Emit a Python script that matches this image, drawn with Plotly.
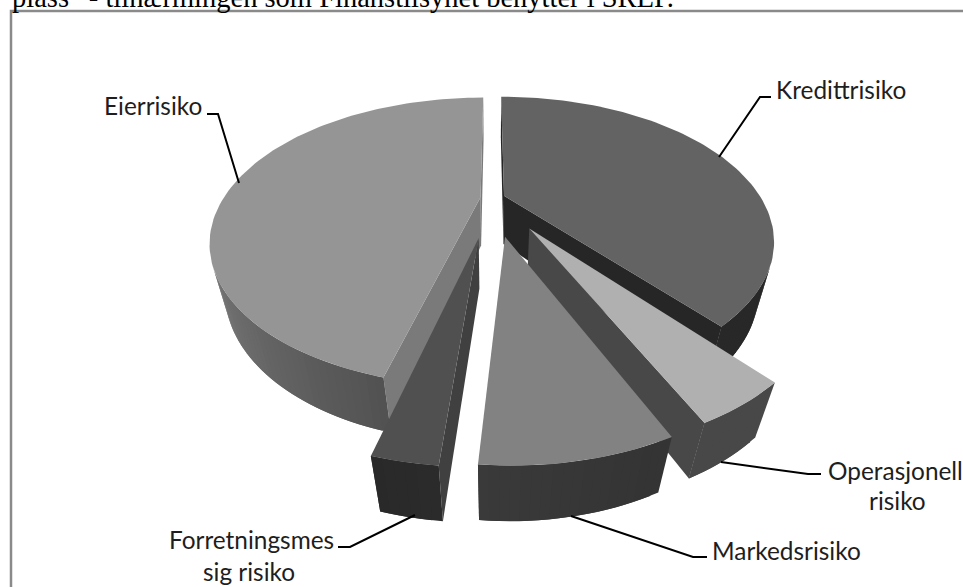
import math
import plotly.graph_objects as go

# Risk categories, clockwise from twelve o'clock
categories = ["Kredittrisiko", "Operasjonell risiko", "Markedsrisiko",
              "Forretningsmessig risiko", "Eierrisiko"]
shares = [39.0, 4.3, 8.0, 2.75, 45.95]
explode = [0.05, 0.256, 0.275, 0.283, 0.045]
radius = [1.0, 0.99, 0.98, 0.975, 1.0]

# Face colours per slice
top_colors = ["#636363", "#b0b0b0", "#828282", "#505050", "#959595"]
cut_colors = ["#262626", "#484848", "#333333", "#404040", "#7a7a7a"]
# Outer wall shading: (degrees into the pie, grey level)
wall_shades = [
    [(0, 40), (360, 40)],
    [(0, 72), (360, 72)],
    [(150, 50), (185, 58)],
    [(180, 44), (200, 40)],
    [(195, 82), (235, 112), (265, 140), (360, 140)],
]
draw_order = [0, 4, 1, 3, 2]

# Projection of the pie disk: perspective camera looking down on the chart
CX, CY = 492.0, 198.0
A, B, K = 257.0, 131.0, 0.31
DROP, SHRINK = 50.8, 0.052


def project(x, y, h=0.0):
    w = 1 + K * y + SHRINK * h
    return CX + A * x / w, CY + (-B * y + DROP * h) / w


def shade(stops, deg):
    g = stops[-1][1]
    if deg <= stops[0][0]:
        g = stops[0][1]
    else:
        for (a0, g0), (a1, g1) in zip(stops, stops[1:]):
            if a0 <= deg <= a1:
                g = g0 + (g1 - g0) * (deg - a0) / (a1 - a0)
                break
    g = int(round(g))
    return f"rgb({g},{g},{g})"


def polygon(points, color, name):
    return go.Scatter(
        x=[p[0] for p in points] + [points[0][0]],
        y=[p[1] for p in points] + [points[0][1]],
        mode="lines", fill="toself", fillcolor=color,
        line=dict(color=color, width=0), name=name,
        hoverinfo="text", text=name, showlegend=False,
    )


def wall(p, q):
    """Corner points of the vertical wall under edge p-q, or None if it faces away."""
    pts = [project(*p), project(*q), project(*q, 1), project(*p, 1)]
    area = sum(a[0] * b[1] - b[0] * a[1] for a, b in zip(pts, pts[1:] + pts[:1]))
    return pts if area < 0 else None


fig = go.Figure()

total = sum(shares)
edges = [0.0]
for s in shares:
    edges.append(edges[-1] + 360.0 * s / total)

for i in draw_order:
    a0, a1 = edges[i], edges[i + 1]
    mid = math.radians((a0 + a1) / 2)
    ox, oy = explode[i] * math.sin(mid), explode[i] * math.cos(mid)
    r = radius[i]

    def rim(deg):
        t = math.radians(deg)
        return ox + r * math.sin(t), oy + r * math.cos(t)

    steps = max(4, int((a1 - a0) / 1.5))
    degs = [a0 + (a1 - a0) * j / steps for j in range(steps + 1)]
    name = categories[i]

    # Cut faces at both ends of the slice
    for p, q in (((ox, oy), rim(a0)), (rim(a1), (ox, oy))):
        pts = wall(p, q)
        if pts:
            fig.add_trace(polygon(pts, cut_colors[i], name))

    # Outer wall: each strip overlaps the next so no seams show
    for j in range(steps):
        d0, d1 = degs[j], degs[min(j + 2, steps)]
        pts = wall(rim(d0), rim(d1))
        if pts:
            fig.add_trace(polygon(pts, shade(wall_shades[i], (degs[j] + degs[j + 1]) / 2), name))

    # Top face
    fig.add_trace(polygon(
        [project(ox, oy)] + [project(*rim(d)) for d in degs],
        top_colors[i], name))

# Leader lines from the slices to their labels
leaders = [
    [(719, 157), (760, 97), (771, 97)],
    [(721, 462), (808, 474), (821, 474)],
    [(571, 516), (693, 557), (707, 557)],
    [(415, 515), (350, 547), (338, 547)],
    [(239, 183), (218, 114), (207, 114)],
]
shapes = [
    dict(type="path", xref="x", yref="y",
         path="M" + " L".join(f"{x},{y}" for x, y in pts),
         line=dict(color="black", width=2), layer="above")
    for pts in leaders
]
# Chart frame
shapes.append(dict(type="rect", xref="x", yref="y", x0=11, y0=11, x1=990, y1=620,
                   line=dict(color="#8a8a8a", width=2.5), layer="below"))

LABEL_FONT = dict(family="Lato", size=24.4, color="#1e1e1e")
labels = [
    ("Kredittrisiko", 776, 89, "left"),
    ("Operasjonell", 828, 470, "left"),
    ("risiko", 897, 500, "center"),
    ("Markedsrisiko", 712, 550, "left"),
    ("Forretningsmes", 334, 539, "right"),
    ("sig risiko", 249, 571, "center"),
    ("Eierrisiko", 202, 105, "right"),
]
annotations = [
    dict(text=t, x=x, y=y, xref="x", yref="y", xanchor=anchor, yanchor="middle",
         showarrow=False, font=LABEL_FONT, borderpad=0, borderwidth=0)
    for t, x, y, anchor in labels
]
annotations.append(dict(
    text="plass\u201d - tilnærmingen som Finanstilsynet benytter i SREP.",
    x=11 / 963, y=1 + 3 / 587, xref="paper", yref="paper", xanchor="left", yanchor="middle",
    showarrow=False, borderpad=0,
    font=dict(family="Liberation Serif", size=28.5, color="black"),
))

fig.update_layout(
    width=963, height=587, margin=dict(l=0, r=0, t=0, b=0),
    paper_bgcolor="white", plot_bgcolor="white", showlegend=False,
    xaxis=dict(range=[0, 963], visible=False, fixedrange=True),
    yaxis=dict(range=[587, 0], visible=False, fixedrange=True),
    shapes=shapes, annotations=annotations,
)
fig.write_html("out.html", config=dict(displayModeBar=False))
